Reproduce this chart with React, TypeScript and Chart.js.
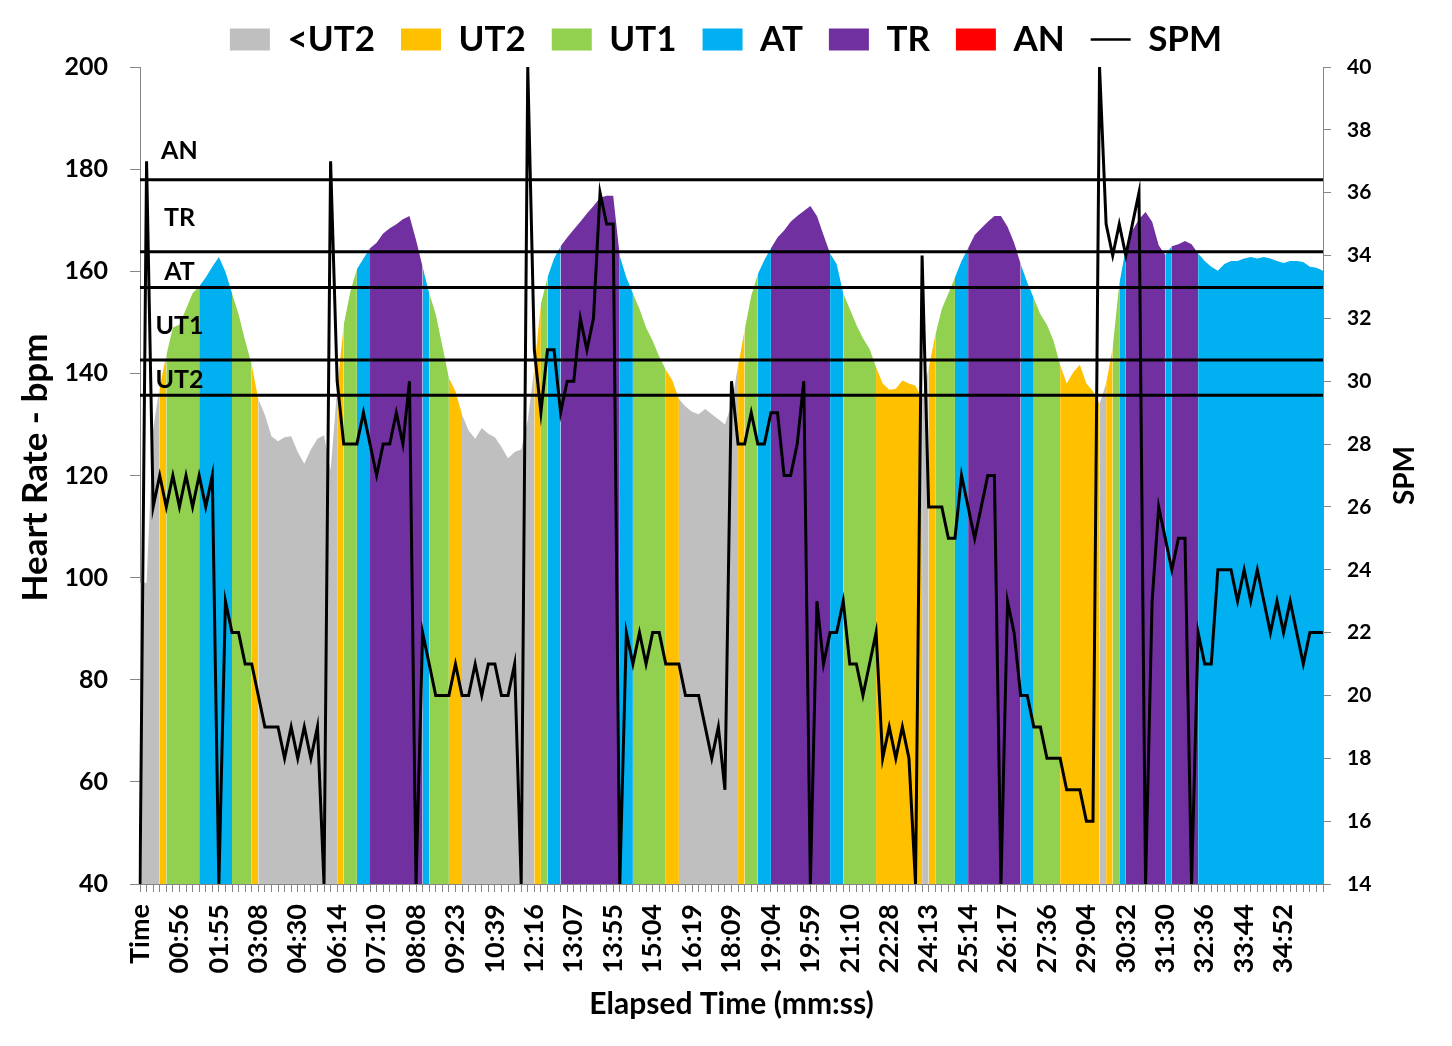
import React, { useEffect, useRef } from 'react';
import { Chart, registerables } from 'chart.js';

Chart.register(...registerables);

// ---- data ----
const tickLabels = [
  'Time', '00:56', '01:55', '03:08', '04:30', '06:14', '07:10', '08:08', '09:23', '10:39',
  '12:16', '13:07', '13:55', '15:04', '16:19', '18:09', '19:04', '19:59', '21:10', '22:28',
  '24:13', '25:14', '26:17', '27:36', '29:04', '30:32', '31:30', '32:36', '33:44', '34:52',
];
const samplesPerTick = 6;

const heartRate = [
  99, 99, 129, 137.5, 143.5, 149, 149.5, 152.6, 155.7, 157,
  158.8, 160.9, 162.8, 159.9, 155.7, 151.6, 146.4, 141.7, 135, 131.9,
  127.7, 126.7, 127.5, 127.7, 124.6, 122.3, 125.1, 127.2, 127.9, 121,
  137, 149.5, 156, 160.4, 162.5, 164.5, 165.6, 167.4, 168.4, 169.2,
  170.2, 170.8, 166.1, 160.9, 155.7, 151.6, 145.4, 139.1, 136.5, 131.9,
  128.8, 127.2, 129.3, 128.2, 127.5, 125.6, 123.4, 124.6, 125.1, 130.8,
  141, 153.6, 158.8, 162.5, 164.9, 166.6, 168.2, 169.7, 171.3, 172.8,
  174.4, 174.8, 174.8, 163, 158.8, 155.7, 152.6, 149, 146.4, 143.3,
  140.7, 138.6, 135, 133.5, 132.5, 132, 133, 132, 131, 130,
  134, 141.5, 148.5, 155.2, 159.4, 162.2, 164.5, 166.6, 168, 169.7,
  170.8, 171.8, 172.8, 170.8, 167.1, 163.5, 161.4, 155.7, 152.6, 149.5,
  146.9, 144.8, 141.2, 138, 136.8, 137, 138.6, 138, 137.6, 135,
  141, 147.4, 152.6, 155.7, 158.8, 162, 164.5, 167.1, 168.4, 169.7,
  170.8, 170.8, 168.7, 165.6, 161.4, 157.8, 154.7, 151.6, 149.5, 146.4,
  141.7, 138, 140.2, 141.7, 138, 136.5, 134, 138, 145, 157.5,
  164.5, 168, 170.2, 171.6, 169.7, 165.1, 163.2, 164.9, 165.3, 165.9,
  165.3, 163.5, 162, 160.9, 160.1, 161.4, 162, 162, 162.5, 162.8,
  162.5, 162.8, 162.5, 162, 161.6, 162, 162, 161.8, 160.9, 160.7,
  160.1,
];

const strokeRate = [
  14, 37, 26, 27, 26, 27, 26, 27, 26, 27,
  26, 27, 14, 23, 22, 22, 21, 21, 20, 19,
  19, 19, 18, 19, 18, 19, 18, 19, 14, 37,
  30, 28, 28, 28, 29, 28, 27, 28, 28, 29,
  28, 30, 14, 22, 21, 20, 20, 20, 21, 20,
  20, 21, 20, 21, 21, 20, 20, 21, 14, 40,
  31, 29, 31, 31, 29, 30, 30, 32, 31, 32,
  36, 35, 35, 14, 22, 21, 22, 21, 22, 22,
  21, 21, 21, 20, 20, 20, 19, 18, 19, 17,
  30, 28, 28, 29, 28, 28, 29, 29, 27, 27,
  28, 30, 14, 23, 21, 22, 22, 23, 21, 21,
  20, 21, 22, 18, 19, 18, 19, 18, 14, 34,
  26, 26, 26, 25, 25, 27, 26, 25, 26, 27,
  27, 14, 23, 22, 20, 20, 19, 19, 18, 18,
  18, 17, 17, 17, 16, 16, 40, 35, 34, 35,
  34, 35, 36, 14, 23, 26, 25, 24, 25, 25,
  14, 22, 21, 21, 24, 24, 24, 23, 24, 23,
  24, 23, 22, 23, 22, 23, 22, 21, 22, 22,
  22,
];

const zoneNames = ['<UT2', 'UT2', 'UT1', 'AT', 'TR', 'AN'];
const zoneColors = ['#BFBFBF', '#FFC000', '#92D050', '#00B0F0', '#7030A0', '#FF0000'];
const thresholdNames = ['UT2', 'UT1', 'AT', 'TR', 'AN'];
const thresholdValues = [135.7, 142.6, 156.8, 163.8, 177.9];
const hrTicks = [40, 200, 20];
const spmTicks = [14, 40, 2];

// ---- helpers ----
const FONT = 'Lato, "Open Sans", sans-serif';
const AXIS_GRAY = '#868686';

const zoneIndex = (v: number) => {
  let k = 0;
  while (k < thresholdValues.length && v >= thresholdValues[k]) k++;
  return k;
};

const categories = heartRate.map((_, i) =>
  i % samplesPerTick === 0 ? tickLabels[i / samplesPerTick] ?? '' : ''
);

const zoneLabelPlugin = {
  id: 'zoneLabels',
  afterDatasetsDraw(chart: any) {
    const { ctx, scales } = chart;
    const x = scales.x;
    const y = scales.y;
    ctx.save();
    ctx.font = `bold 25px ${FONT}`;
    ctx.fillStyle = '#000';
    ctx.textAlign = 'center';
    ctx.textBaseline = 'middle';
    const cx = x.getPixelForValue(samplesPerTick);
    thresholdNames.forEach((name, k) => {
      const t = thresholdValues[k];
      const v =
        k < thresholdValues.length - 1
          ? (t + thresholdValues[k + 1]) / 2 - 0.4
          : t + (t - thresholdValues[k - 1]) * 0.4;
      ctx.fillText(name, cx, y.getPixelForValue(v));
    });
    ctx.restore();
  },
};

const axisTitlesPlugin = {
  id: 'axisTitles',
  afterDraw(chart: any) {
    const { ctx, chartArea } = chart;
    const midY = (chartArea.top + chartArea.bottom) / 2;
    ctx.save();
    ctx.fillStyle = '#000';
    ctx.textAlign = 'center';
    ctx.textBaseline = 'middle';
    // left title
    ctx.save();
    ctx.translate(chartArea.left - 104, midY - 8);
    ctx.rotate(-Math.PI / 2);
    ctx.font = `bold 35px ${FONT}`;
    ctx.fillText('Heart Rate - bpm', 0, 0);
    ctx.restore();
    // right title
    ctx.save();
    ctx.translate(chartArea.right + 82, midY);
    ctx.rotate(-Math.PI / 2);
    ctx.font = `bold 28px ${FONT}`;
    ctx.fillText('SPM', 0, 0);
    ctx.restore();
    ctx.restore();
  },
};

export default function App() {
  const ref = useRef<HTMLCanvasElement>(null);

  useEffect(() => {
    if (!ref.current) return;

    const thresholdDatasets = thresholdValues.map((t, k) => ({
      type: 'line' as const,
      label: thresholdNames[k] + ' line',
      data: categories.map(() => t),
      borderColor: '#000',
      borderWidth: 3,
      pointRadius: 0,
      fill: false,
      yAxisID: 'y',
      order: 2,
    }));

    const chart = new Chart(ref.current, {
      type: 'line',
      data: {
        labels: categories,
        datasets: [
          {
            label: 'SPM',
            data: strokeRate,
            borderColor: '#000',
            borderWidth: 3,
            borderJoinStyle: 'miter',
            pointRadius: 0,
            fill: false,
            yAxisID: 'y1',
            order: 1,
          } as any,
          ...thresholdDatasets,
          {
            label: 'Heart Rate',
            data: heartRate,
            borderColor: 'rgba(0,0,0,0)',
            borderWidth: 0,
            backgroundColor: zoneColors[0],
            pointRadius: 0,
            fill: 'start',
            yAxisID: 'y',
            order: 3,
            segment: {
              backgroundColor: (c: any) => zoneColors[zoneIndex(heartRate[c.p0DataIndex])],
            },
          } as any,
        ],
      },
      options: {
        responsive: false,
        devicePixelRatio: 1,
        animation: false,
        events: [],
        layout: { padding: { top: -12, left: 0, right: 0, bottom: 0 } },
        plugins: {
          tooltip: { enabled: false },
          legend: {
            position: 'top',
            maxHeight: 71,
            labels: {
              usePointStyle: true,
              pointStyleWidth: 40,
              boxHeight: 22,
              padding: 26,
              color: '#000',
              font: { family: FONT, size: 35, weight: 'bold' },
              generateLabels: () => [
                ...zoneNames.map((n, k) => ({
                  text: n,
                  fillStyle: zoneColors[k],
                  strokeStyle: zoneColors[k],
                  lineWidth: 0,
                  pointStyle: 'rect',
                  hidden: false,
                  fontColor: '#000',
                  datasetIndex: 0,
                })),
                {
                  text: 'SPM',
                  fillStyle: '#000',
                  strokeStyle: '#000',
                  lineWidth: 2.5,
                  pointStyle: 'line',
                  hidden: false,
                  fontColor: '#000',
                  datasetIndex: 0,
                },
              ] as any,
            },
          },
        },
        scales: {
          x: {
            type: 'category',
            offset: false,
            grid: {
              display: true,
              drawOnChartArea: false,
              drawTicks: true,
              tickLength: 8,
              color: AXIS_GRAY,
              lineWidth: 1,
            },
            border: { display: true, color: AXIS_GRAY, width: 1 },
            ticks: {
              autoSkip: false,
              maxRotation: 90,
              minRotation: 90,
              padding: 12,
              color: '#000',
              font: { family: FONT, size: 27, weight: 'bold' },
            },
            title: {
              display: true,
              text: 'Elapsed Time (mm:ss)',
              color: '#000',
              font: { family: FONT, size: 30, weight: 'bold' },
              padding: { top: 0, bottom: 16 },
            },
            afterFit: (s: any) => {
              s.height = 154;
            },
          },
          y: {
            type: 'linear',
            position: 'left',
            min: hrTicks[0],
            max: hrTicks[1],
            ticks: {
              stepSize: hrTicks[2],
              padding: 22,
              color: '#000',
              font: { family: FONT, size: 25, weight: 'bold' },
            },
            grid: { drawOnChartArea: false, tickLength: 10, color: AXIS_GRAY },
            border: { display: true, color: AXIS_GRAY, width: 1 },
            afterFit: (s: any) => {
              s.width = 132;
            },
          },
          y1: {
            type: 'linear',
            position: 'right',
            min: spmTicks[0],
            max: spmTicks[1],
            ticks: {
              stepSize: spmTicks[2],
              padding: 16,
              color: '#000',
              font: { family: FONT, size: 21, weight: 'bold' },
            },
            grid: { drawOnChartArea: false, tickLength: 8, color: AXIS_GRAY },
            border: { display: true, color: AXIS_GRAY, width: 1 },
            afterFit: (s: any) => {
              s.width = 121;
            },
          },
        },
      } as any,
      plugins: [zoneLabelPlugin, axisTitlesPlugin],
    });

    return () => chart.destroy();
  }, []);

  return (
    <canvas
      ref={ref}
      width={1436}
      height={1030}
      style={{ display: 'block', width: 1436, height: 1030 }}
    />
  );
}
